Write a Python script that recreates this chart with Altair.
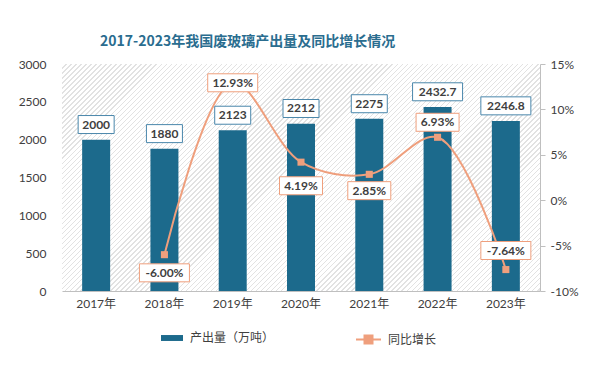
import altair as alt
import pandas as pd

# ---------------- data ----------------
years = ["2017年", "2018年", "2019年", "2020年", "2021年", "2022年", "2023年"]
output = [2000, 1880, 2123, 2212, 2275, 2432.7, 2246.8]
output_labels = ["2000", "1880", "2123", "2212", "2275", "2432.7", "2246.8"]
growth = [None, -6.00, 12.93, 4.19, 2.85, 6.93, -7.64]
growth_labels = [None, "-6.00%", "12.93%", "4.19%", "2.85%", "6.93%", "-7.64%"]
left_ticks = [0, 500, 1000, 1500, 2000, 2500, 3000]
right_ticks = [-10, -5, 0, 5, 10, 15]

TITLE = "2017-2023年我国废玻璃产出量及同比增长情况"
BAR_NAME = "产出量（万吨）"
LINE_NAME = "同比增长"

# ---------------- styles ----------------
BLUE = "#1c6a8c"
BLUE_BOX = "#4a87ab"
ORANGE = "#ef9f7d"
TEXT = "#404040"
FONT = "Lato, 'Noto Sans CJK SC', sans-serif"
CJK = "'Noto Sans CJK SC', sans-serif"
W, H = 478, 227
# label placement (in axis units, relative to the value)
BAR_LABEL_SHIFT = 200
GROWTH_LABEL_SHIFT = {"2018年": -2.0, "2019年": 0.0, "2020年": -2.6,
                      "2021年": -1.8, "2022年": 1.65, "2023年": 2.1}

df = pd.DataFrame({"year": years, "output": output, "olabel": output_labels,
                   "growth": growth, "glabel": growth_labels})
df["oshift"] = [o + BAR_LABEL_SHIFT for o in output]
df["gshift"] = [(g + GROWTH_LABEL_SHIFT[y]) if g is not None else None
                for y, g in zip(years, growth)]

x_axis = alt.Axis(labelAngle=0, ticks=False, domainColor="#bfbfbf",
                  labelPadding=7, labelFontSize=12, labelColor=TEXT, labelFont=FONT)
x_scale = alt.Scale(paddingInner=0.5, paddingOuter=0.25)


def xe():
    return alt.X("year:N", sort=years, title=None, axis=x_axis, scale=x_scale)


yl_scale = alt.Scale(domain=[0, 3000], nice=False)
yr_scale = alt.Scale(domain=[-10, 15], nice=False)
yl_axis = alt.Axis(values=left_ticks, format="d", labelOverlap=False,
                   domain=False, ticks=False, grid=False,
                   labelPadding=16, labelFontSize=12, labelColor=TEXT, labelFont=FONT)
yr_axis = alt.Axis(orient="right", values=right_ticks,
                   labelExpr="datum.value + '%'", domain=True, labelOverlap=False,
                   domainColor="#bfbfbf", ticks=True, tickColor="#bfbfbf",
                   tickSize=5, grid=False, labelPadding=5, labelFontSize=12,
                   labelColor=TEXT, labelFont=FONT)


def yl(field):
    return alt.Y(field, scale=yl_scale, axis=yl_axis, title=None)


def yr(field):
    return alt.Y(field, scale=yr_scale, axis=yr_axis, title=None)


base = alt.Chart(df)

# hatched background
period = 3.6
span = 497.0
n = int(span / period) + 2
stops = []
for i in range(n):
    a = i / n
    b = (i + 0.72) / n
    c = (i + 1) / n
    stops += [alt.GradientStop(offset=a, color="#ffffff"),
              alt.GradientStop(offset=b, color="#ffffff"),
              alt.GradientStop(offset=b, color="#e2e2e2"),
              alt.GradientStop(offset=min(c, 1.0), color="#e2e2e2")]
hatch = alt.Chart(pd.DataFrame({"k": [0]})).mark_rect(
    fill=alt.LinearGradient(gradient="linear", stops=stops,
                            x1=0, y1=0, x2=1.2, y2=1.2 * H / W)
).encode(x=alt.value(0), x2=alt.value("width"), y=alt.value(0), y2=alt.value("height"))

bars = base.transform_calculate(s=f"'{BAR_NAME}'").mark_bar(size=28).encode(
    x=xe(),
    y=yl("output:Q"),
    color=alt.Color("s:N", scale=alt.Scale(domain=[BAR_NAME], range=[BLUE]),
                    legend=alt.Legend(orient="none", legendX=98, legendY=262,
                                      title=None, symbolType="M-1,-0.27H1V0.27H-1Z",
                                      symbolSize=484, labelFontSize=12,
                                      labelColor=TEXT, labelFont=CJK,
                                      labelOffset=6)),
)

bar_boxes = []
for L in sorted(set(len(s) for s in output_labels)):
    bar_boxes.append(
        base.transform_filter(f"length(datum.olabel) == {L}").mark_rect(
            width=7 * L + 8, height=18, fill="white", stroke=BLUE_BOX, strokeWidth=1
        ).encode(x=xe(), y=yl("oshift:Q"))
    )
bar_text = base.mark_text(fontSize=12, fontWeight="bold", color=TEXT, font=FONT,
                          baseline="middle").encode(
    x=xe(), y=yl("oshift:Q"), text="olabel:N")

left = alt.layer(hatch, bars, *bar_boxes, bar_text)

gdf = base.transform_filter("datum.growth != null")
line = gdf.mark_line(color=ORANGE, strokeWidth=2, interpolate="catmull-rom").encode(
    x=xe(), y=yr("growth:Q"))
points = gdf.transform_calculate(s2=f"'{LINE_NAME}'").mark_point(
    shape="square", filled=True, size=50, opacity=1).encode(
    x=xe(), y=yr("growth:Q"),
    color=alt.Color("s2:N", scale=alt.Scale(domain=[LINE_NAME], range=[ORANGE]),
                    legend=alt.Legend(orient="none", legendX=293, legendY=262,
                                      title=None,
                                      symbolType="M-1,0H1M-0.32,-0.32H0.32V0.32H-0.32Z",
                                      symbolSize=625, symbolStrokeColor=ORANGE,
                                      symbolStrokeWidth=2, labelFontSize=12,
                                      labelColor=TEXT, labelFont=CJK, labelOffset=6)),
)
g_boxes = []
for L in sorted(set(len(s) for s in growth_labels if s)):
    g_boxes.append(
        gdf.transform_filter(f"length(datum.glabel) == {L}").mark_rect(
            width=7 * L + 8, height=18, fill="white", stroke=ORANGE, strokeWidth=1
        ).encode(x=xe(), y=yr("gshift:Q"))
    )
g_text = gdf.mark_text(fontSize=12, fontWeight="bold", color=TEXT, font=FONT,
                       baseline="middle").encode(
    x=xe(), y=yr("gshift:Q"), text="glabel:N")

right = alt.layer(line, points, *g_boxes, g_text)

chart = alt.layer(left, right).resolve_scale(
    y="independent", color="independent"
).resolve_legend(color="independent").properties(
    width=W, height=H,
    title=alt.TitleParams(TITLE, anchor="start", frame="group", dx=38, offset=9,
                          fontSize=14, fontWeight="bold", color="#2a6d8f", font=CJK),
    autosize=alt.AutoSizeParams(type="none"),
    padding={"left": 54, "top": 56, "right": 46, "bottom": 70},
    background="white",
).configure_view(stroke=None)

chart.save("out.html", embed_options={"renderer": "svg", "actions": False})
